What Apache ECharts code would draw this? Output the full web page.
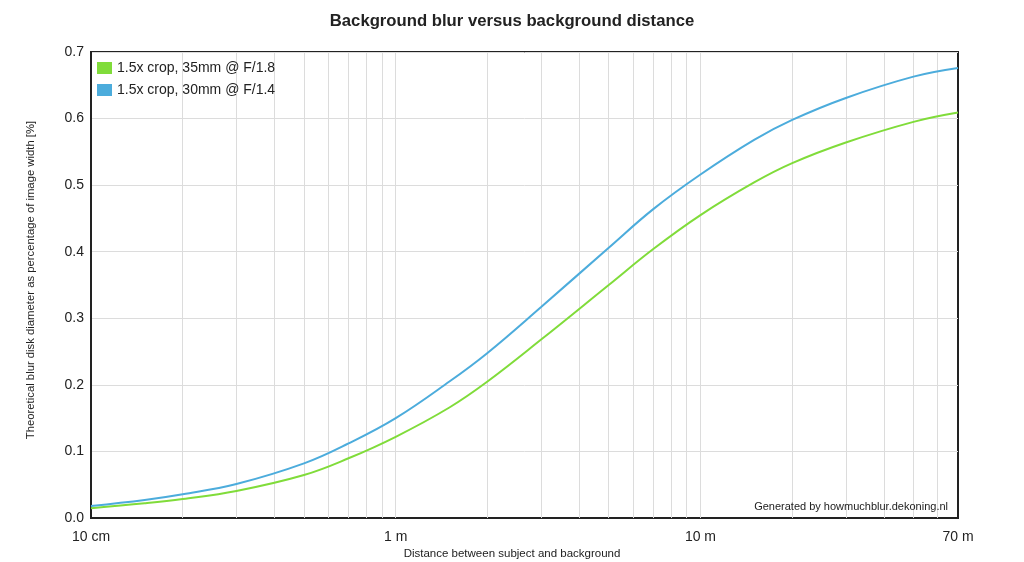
<!DOCTYPE html>
<html>
<head>
<meta charset="utf-8">
<script src="https://cdn.jsdelivr.net/npm/echarts@6/dist/echarts.min.js"></script>
<style>
html,body{margin:0;padding:0;background:#fff;}
#chart{width:1024px;height:562px;}
</style>
</head>
<body>
<div id="chart"></div>
<script>
// Distances in metres
const distances = [0.1, 0.15, 0.2, 0.3, 0.5, 0.7, 1, 1.5, 2, 3, 5, 7, 10, 15, 20, 30, 50, 70];
// Blur disk diameter (% of image width)
const green35mmF18 = [0.0146, 0.022, 0.0285, 0.0406, 0.0646, 0.0897, 0.122, 0.166, 0.205, 0.268, 0.350, 0.404, 0.455, 0.504, 0.533, 0.564, 0.595, 0.609];
const blue30mmF14 = [0.018, 0.027, 0.0356, 0.051, 0.082, 0.112, 0.150, 0.205, 0.248, 0.317, 0.406, 0.464, 0.516, 0.568, 0.598, 0.631, 0.663, 0.676];
const seriesNames = ['1.5x crop, 35mm @ F/1.8', '1.5x crop, 30mm @ F/1.4'];
// vertical grid positions (metres)
const gridDistances = [0.2, 0.3, 0.4, 0.5, 0.6, 0.7, 0.8, 0.9, 1, 2, 3, 4, 5, 6, 7, 8, 9, 10, 20, 30, 40, 50, 60];

const FONT = '"Liberation Sans", Arial, Helvetica, sans-serif';
const chart = echarts.init(document.getElementById('chart'), null, {renderer: 'canvas'});

function pairs(xs, ys) { return xs.map((x, i) => [x, ys[i]]); }

chart.setOption({
  animation: false,
  backgroundColor: '#fff',
  title: {
    text: 'Background blur versus background distance',
    left: 'center',
    top: 8,
    textStyle: {fontFamily: FONT, fontSize: 16.7, fontWeight: 'bold', color: '#222'}
  },
  legend: {
    orient: 'vertical',
    left: 97,
    top: 61,
    padding: 0,
    itemWidth: 15,
    itemHeight: 12,
    itemGap: 8,
    icon: 'rect',
    textStyle: {fontFamily: FONT, fontSize: 14, color: '#222'},
    data: seriesNames
  },
  grid: {
    left: 91, right: 66, top: 52, bottom: 44,
    show: true, borderColor: '#222', borderWidth: 2, backgroundColor: 'transparent'
  },
  xAxis: {
    type: 'log',
    logBase: 10,
    min: 0.1,
    max: 70,
    axisLine: {show: true, lineStyle: {color: '#222', width: 2}},
    axisTick: {show: false},
    splitLine: {show: false},
    axisLabel: {
      showMinLabel: true,
      showMaxLabel: true,
      margin: 12,
      fontFamily: FONT, fontSize: 14, color: '#222',
      formatter: function (v) {
        if (v < 0.999) return Math.round(v * 100) + ' cm';
        return Math.round(v) + ' m';
      }
    }
  },
  yAxis: {
    type: 'value',
    min: 0,
    max: 0.7,
    interval: 0.1,
    axisLine: {show: true, lineStyle: {color: '#222', width: 2}},
    axisTick: {show: false},
    splitLine: {show: true, lineStyle: {color: '#dcdcdc', width: 1}},
    axisLabel: {
      margin: 7,
      fontFamily: FONT, fontSize: 14, color: '#222',
      formatter: function (v) { return v.toFixed(1); }
    }
  },
  series: [
    {
      name: seriesNames[0],
      type: 'line',
      smooth: 0.4,
      showSymbol: false,
      z: 3,
      color: '#80dc3a',
      lineStyle: {width: 2, color: '#80dc3a'},
      data: pairs(distances, green35mmF18),
      markLine: {
        silent: true,
        z: 1,
        symbol: 'none',
        label: {show: false},
        lineStyle: {color: '#dcdcdc', width: 1, type: 'solid'},
        data: gridDistances.map(d => ({xAxis: d}))
      }
    },
    {
      name: seriesNames[1],
      type: 'line',
      smooth: 0.4,
      showSymbol: false,
      z: 4,
      color: '#4cacdc',
      lineStyle: {width: 2, color: '#4cacdc'},
      data: pairs(distances, blue30mmF14)
    }
  ],
  graphic: [
    {
      type: 'text',
      right: 76,
      top: 501,
      z: 100,
      style: {text: 'Generated by howmuchblur.dekoning.nl', font: '11px ' + FONT, fill: '#222'}
    },
    {
      type: 'text',
      left: 'center',
      top: 548,
      z: 100,
      style: {text: 'Distance between subject and background', font: '11.5px ' + FONT, fill: '#222'}
    },
    {
      type: 'text',
      x: 31,
      y: 280,
      z: 100,
      rotation: Math.PI / 2,
      style: {text: 'Theoretical blur disk diameter as percentage of image width [%]', font: '11.3px ' + FONT, fill: '#222', align: 'center', verticalAlign: 'middle'}
    }
  ]
});
</script>
</body>
</html>
